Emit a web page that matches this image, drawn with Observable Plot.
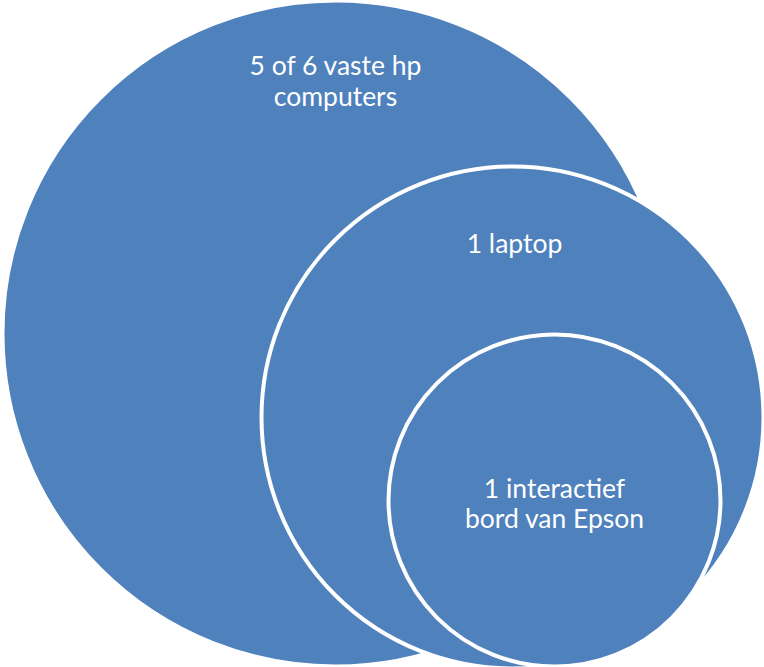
<!DOCTYPE html>
<html>
<head>
<meta charset="utf-8">
<script src="https://cdn.jsdelivr.net/npm/d3@7"></script>
<script src="https://cdn.jsdelivr.net/npm/@observablehq/plot@0.6"></script>
<style>
  html, body { margin: 0; padding: 0; background: #ffffff; }
  #chart svg { display: block; }
</style>
</head>
<body>
<div id="chart"></div>
<script>
// Nested circles (outer → inner)
const circleNames = ["hp", "laptop", "epson"];
const circleX = [335, 512, 554];
const circleY = [333, 417, 500];
const circleR = [333, 251, 166];

// Labels (one row per text line)
const labelLines = ["5 of 6 vaste hp", "computers", "1 laptop", "1 interactief", "bord van Epson"];
const labelX = [335, 335, 514, 554, 554];
const labelY = [66, 97, 244, 489, 519];

const circles = circleNames.map((n, i) => ({name: n, x: circleX[i], y: circleY[i], r: circleR[i]}));
const labels = labelLines.map((t, i) => ({text: t, x: labelX[i], y: labelY[i]}));

const W = 764, H = 667;
const chart = Plot.plot({
  width: W,
  height: H,
  margin: 0,
  style: {background: "#ffffff", overflow: "hidden"},
  x: {domain: [0, W], range: [0, W], axis: null},
  y: {domain: [0, H], range: [0, H], axis: null},
  r: {type: "identity"},
  marks: [
    Plot.dot(circles, {x: "x", y: "y", r: "r", fill: "#4F81BD", stroke: "#ffffff", strokeWidth: 4}),
    Plot.text(labels, {x: "x", y: "y", text: "text", fill: "#ffffff", fontSize: 26.5,
      fontFamily: "Lato, 'Open Sans', sans-serif", textAnchor: "middle", lineAnchor: "middle"})
  ]
});
document.getElementById("chart").appendChild(chart);
</script>
</body>
</html>
